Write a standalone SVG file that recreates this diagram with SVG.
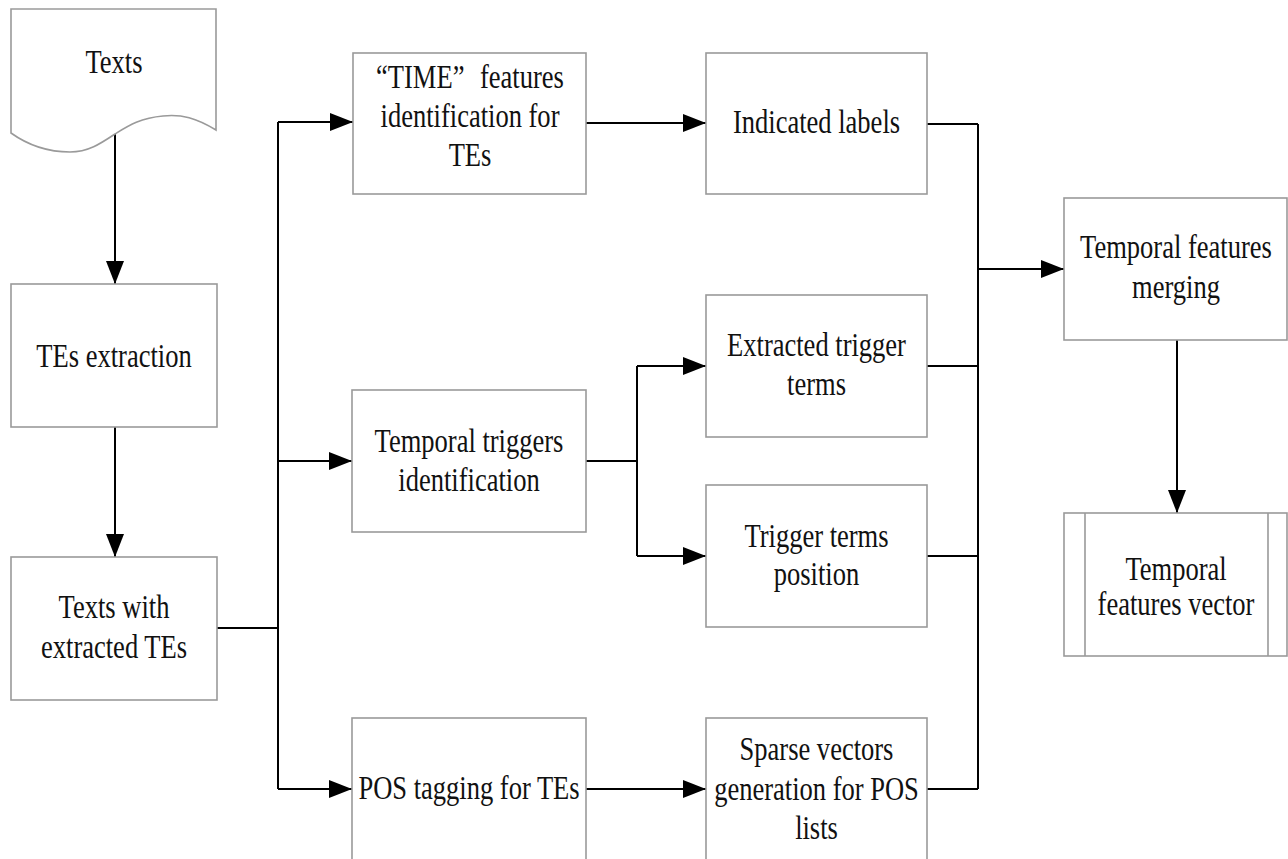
<svg xmlns="http://www.w3.org/2000/svg" width="1288" height="859" viewBox="0 0 1288 859">
<style>
.box{fill:#fff;stroke:#9a9a9a;stroke-width:1.6}
.lbl{font-family:"Liberation Serif","Times New Roman",serif;font-size:34px;fill:#111;text-anchor:middle}
.con{fill:none;stroke:#000;stroke-width:2}
.arr{fill:none;stroke:#000;stroke-width:2;marker-end:url(#ah)}
</style>
<defs>
<marker id="ah" markerUnits="userSpaceOnUse" markerWidth="24" markerHeight="18" refX="23" refY="9" orient="auto">
<path d="M0,0 L23,9 L0,18 Z" fill="#000"/>
</marker>
</defs>
<rect width="1288" height="859" fill="#fff"/>

<g id="connectors">
<path class="arr" d="M115,134 V284"/>
<path class="arr" d="M115,427 V557"/>
<path class="con" d="M217,628 H278"/>
<path class="con" d="M278,122 V789"/>
<path class="arr" d="M278,122 H353"/>
<path class="arr" d="M278,461 H352"/>
<path class="arr" d="M278,789 H352"/>
<path class="arr" d="M586,123 H706"/>
<path class="con" d="M586,461 H637"/>
<path class="con" d="M637,366 V556"/>
<path class="arr" d="M637,366 H706"/>
<path class="arr" d="M637,556 H706"/>
<path class="arr" d="M586,789 H706"/>
<path class="con" d="M927,124 H978 M927,366 H978 M927,556 H978 M927,789 H978"/>
<path class="con" d="M978,124 V789"/>
<path class="arr" d="M978,269 H1064"/>
<path class="arr" d="M1177,340 V513"/>
</g>

<g id="texts">
<path class="box" d="M11,9 H216 V130 C196,118 182,114 163,116 C140,118 128,126 115,134 C100,144 88,152 70,152 C45,152 25,143 11,133 Z"/>
<text class="lbl" transform="translate(114,0) scale(0.78,1)" x="0" y="73">Texts</text>
</g>

<g id="tes-extraction">
<rect class="box" x="11" y="284" width="206" height="143"/>
<text class="lbl" transform="translate(114,0) scale(0.78,1)" x="0" y="367">TEs extraction</text>
</g>

<g id="texts-with-tes">
<rect class="box" x="11" y="557" width="206" height="143"/>
<text class="lbl" transform="translate(114,0) scale(0.78,1)"><tspan x="0" y="618">Texts with</tspan><tspan x="0" y="658">extracted TEs</tspan></text>
</g>

<g id="time-features">
<rect class="box" x="353" y="53" width="233" height="141"/>
<text class="lbl" transform="translate(470,0) scale(0.78,1)"><tspan x="0" y="88">“TIME”<tspan dx="20">features</tspan></tspan><tspan x="0" y="127">identification for</tspan><tspan x="0" y="166">TEs</tspan></text>
</g>

<g id="temporal-triggers">
<rect class="box" x="352" y="390" width="234" height="142"/>
<text class="lbl" transform="translate(469,0) scale(0.78,1)"><tspan x="0" y="452">Temporal triggers</tspan><tspan x="0" y="491">identification</tspan></text>
</g>

<g id="pos-tagging">
<rect class="box" x="352" y="718" width="234" height="160"/>
<text class="lbl" transform="translate(469,0) scale(0.78,1)" x="0" y="799">POS tagging for TEs</text>
</g>

<g id="indicated-labels">
<rect class="box" x="706" y="53" width="221" height="141"/>
<text class="lbl" transform="translate(816.5,0) scale(0.78,1)" x="0" y="133">Indicated labels</text>
</g>

<g id="extracted-trigger-terms">
<rect class="box" x="706" y="295" width="221" height="142"/>
<text class="lbl" transform="translate(816.5,0) scale(0.78,1)"><tspan x="0" y="356">Extracted trigger</tspan><tspan x="0" y="395">terms</tspan></text>
</g>

<g id="trigger-terms-position">
<rect class="box" x="706" y="485" width="221" height="142"/>
<text class="lbl" transform="translate(816.5,0) scale(0.78,1)"><tspan x="0" y="547">Trigger terms</tspan><tspan x="0" y="585">position</tspan></text>
</g>

<g id="sparse-vectors">
<rect class="box" x="706" y="718" width="221" height="160"/>
<text class="lbl" transform="translate(816.5,0) scale(0.78,1)"><tspan x="0" y="760">Sparse vectors</tspan><tspan x="0" y="800">generation for POS</tspan><tspan x="0" y="839">lists</tspan></text>
</g>

<g id="temporal-merging">
<rect class="box" x="1064" y="198" width="223" height="142"/>
<text class="lbl" transform="translate(1176,0) scale(0.78,1)"><tspan x="0" y="258">Temporal features</tspan><tspan x="0" y="298">merging</tspan></text>
</g>

<g id="temporal-vector">
<rect class="box" x="1064" y="513" width="223" height="143"/>
<path class="box" d="M1085,513 V656 M1268,513 V656"/>
<text class="lbl" transform="translate(1176,0) scale(0.78,1)"><tspan x="0" y="580">Temporal</tspan><tspan x="0" y="615">features vector</tspan></text>
</g>
</svg>
